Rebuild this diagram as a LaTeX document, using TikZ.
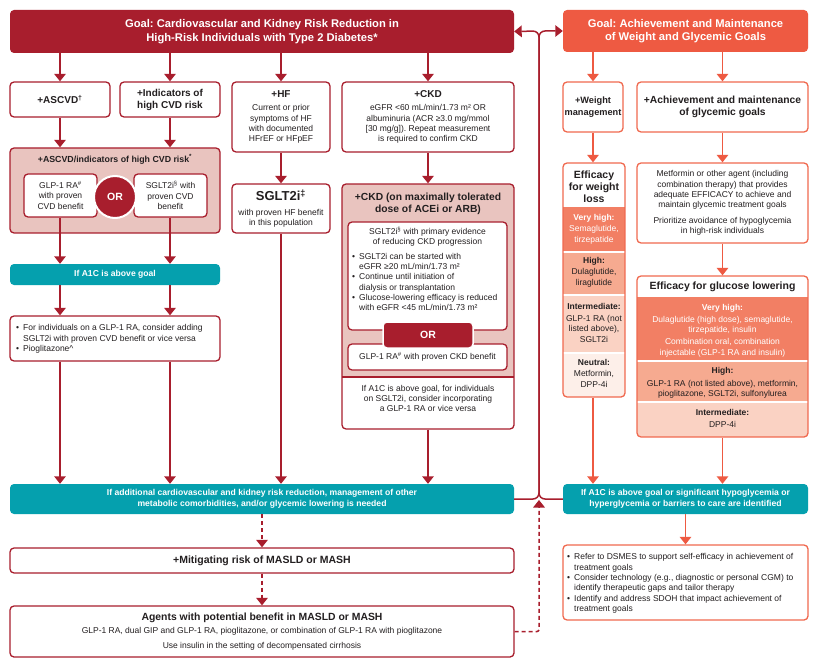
\documentclass[tikz,border=0pt]{standalone}
\usepackage{fontspec}
\setmainfont{Liberation Sans}
\usetikzlibrary{arrows.meta,calc}
\definecolor{ared}{HTML}{A81E2D}
\definecolor{apink}{HTML}{E9C4BF}
\definecolor{ateal}{HTML}{05A0AE}
\definecolor{aor}{HTML}{EE5A42}
\definecolor{aorb}{HTML}{F0694F}
\definecolor{avh}{HTML}{F27F64}
\definecolor{ahi}{HTML}{F6AA90}
\definecolor{aint}{HTML}{FAD2C3}
\definecolor{aneu}{HTML}{FDEFE9}
\definecolor{atxt}{HTML}{231F20}
\newcommand{\myfs}[2]{\fontsize{#1}{#2}\selectfont}
\newcommand{\bodyfs}{\myfs{8.5}{10.3}}
\newcommand{\blist}[1]{\begin{tabular}{@{}l@{\hspace{4pt}}l@{}}#1\end{tabular}}
\frenchspacing
\tikzset{
 base/.style={inner sep=0pt, align=center, text=atxt, font=\bodyfs},
 rbox/.style={base, draw=ared, line width=1.3pt, rounded corners=4pt, fill=white},
 obox/.style={base, draw=aorb, line width=1.3pt, rounded corners=4pt, fill=white},
 tealbox/.style={base, fill=ateal, rounded corners=4pt, text=white, font=\bfseries\myfs{8.6}{10.5}},
 goalbox/.style={base, rounded corners=4pt, text=white, font=\bfseries\myfs{11.2}{13.5}},
 txt/.style={base},
 arr/.style={draw=ared, line width=1.5pt, -{Triangle[width=11.5pt,length=7.5pt]}},
 oarr/.style={arr, draw=aor},
 darr/.style={arr, dash pattern=on 4pt off 3pt},
}
\begin{document}
\begin{tikzpicture}[x=1pt,y=-1pt]
\fill[white] (0,0) rectangle (820,666);
\useasboundingbox (0,0) rectangle (820,666);

% ---------- goals
\node[goalbox, fill=ared, minimum width=504pt, minimum height=43pt] (goalL) at (262,31.5)
 {Goal: Cardiovascular and Kidney Risk Reduction in\\High-Risk Individuals with Type 2 Diabetes*};
\node[goalbox, fill=aor, minimum width=245pt, minimum height=42pt] (goalR) at (685.5,31)
 {Goal: Achievement and Maintenance\\of Weight and Glycemic Goals};

% ---------- left column
\node[rbox, minimum width=100pt, minimum height=35pt, font=\bfseries\myfs{10}{12}] (ascvd) at (60,99.5) {+ASCVD\textsuperscript{†}};
\node[rbox, minimum width=100pt, minimum height=35pt, font=\bfseries\myfs{10}{12}] (indic) at (170,99.5) {+Indicators of\\high CVD risk};

\node[rbox, fill=apink, minimum width=210pt, minimum height=85pt] (cvdbox) at (115,190.5) {};
\node[txt, font=\bfseries\myfs{8.8}{11}] (cvdtitle) at (115,159) {+ASCVD/indicators of high CVD risk\textsuperscript{*}};
\node[rbox, minimum width=73pt, minimum height=43pt] (glpcvd) at (60.5,195.5) {GLP-1 RA\textsuperscript{\#}\\with proven\\CVD benefit};
\node[rbox, minimum width=73pt, minimum height=43pt] (sgltcvd) at (170.5,195.5) {SGLT2i\textsuperscript{§} with\\proven CVD\\benefit};
\node[base, circle, fill=ared, draw=white, line width=2pt, minimum size=42pt, text=white, font=\bfseries\myfs{10.5}{12}] (orcvd) at (115,197) {OR};

\node[tealbox, minimum width=210pt, minimum height=21pt] (a1cL) at (115,274.5) {If A1C is above goal};
\node[rbox, minimum width=210pt, minimum height=45pt] (addL) at (115,338.5) {};
\node[txt, anchor=west, align=left] (addLtxt) at (16,339)
 {\blist{•&For individuals on a GLP-1 RA, consider adding\\ &SGLT2i with proven CVD benefit or vice versa\\ •&Pioglitazone\textasciicircum}};

% ---------- HF column
\node[rbox, minimum width=98pt, minimum height=70pt] (hf) at (281,117) {{\bfseries\myfs{10}{12}+HF}\\[3pt]Current or prior\\symptoms of HF\\with documented\\HFrEF or HFpEF};
\node[rbox, minimum width=98pt, minimum height=49pt] (sglthf) at (281,208.5) {{\bfseries\myfs{13}{14}SGLT2i\textsuperscript{‡}}\\[4pt]with proven HF benefit\\in this population};

% ---------- CKD column
\node[rbox, minimum width=172pt, minimum height=70pt] (ckd) at (428,117) {{\bfseries\myfs{10}{12}+CKD}\\[3pt]eGFR <60 mL/min/1.73 m² OR\\albuminuria (ACR ≥3.0 mg/mmol\\{}[30 mg/g]). Repeat measurement\\is required to confirm CKD};

\begin{scope}
\clip[rounded corners=4pt] (342,184) rectangle (514,429);
\fill[apink] (342,184) rectangle (514,377);
\draw[ared, line width=1.3pt] (342,377) -- (514,377);
\end{scope}
\node[rbox, fill=none, minimum width=172pt, minimum height=245pt] (ckdmax) at (428,306.5) {};
\node[txt, font=\bfseries\myfs{10.3}{11.5}] (ckdmaxT) at (428,204) {+CKD (on maximally tolerated\\dose of ACEi or ARB)};
\node[rbox, minimum width=159pt, minimum height=108pt] (sgltckd) at (427.5,276) {};
\node[txt] (sgltckdT) at (427.5,237) {SGLT2i\textsuperscript{§} with primary evidence\\of reducing CKD progression};
\node[txt, anchor=west, align=left] (sgltckdB) at (352,283)
 {\blist{•&SGLT2i can be started with\\ &eGFR ≥20 mL/min/1.73 m²\\ •&Continue until initiation of\\ &dialysis or transplantation\\ •&Glucose-lowering efficacy is reduced\\ &with eGFR <45 mL/min/1.73 m²}};
\node[rbox, minimum width=159pt, minimum height=26pt] (glpckd) at (427.5,357) {GLP-1 RA\textsuperscript{\#} with proven CKD benefit};
\node[base, fill=ared, draw=white, line width=1.5pt, rounded corners=4pt, minimum width=90pt, minimum height=26pt, text=white, font=\bfseries\myfs{10.5}{12}] (orckd) at (428,335) {OR};
\node[txt] (ckdA1c) at (428,398.5) {If A1C is above goal, for individuals\\on SGLT2i, consider incorporating\\a GLP-1 RA or vice versa};

% ---------- bottom left
\node[tealbox, minimum width=504pt, minimum height=30pt] (addtl) at (262,499) {If additional cardiovascular and kidney risk reduction, management of other\\metabolic comorbidities, and/or glycemic lowering is needed};
\node[rbox, minimum width=504pt, minimum height=25pt, font=\bfseries\myfs{10.5}{12}] (masld) at (262,560.5) {+Mitigating risk of MASLD or MASH};
\node[rbox, minimum width=504pt, minimum height=51pt] (agents) at (262,631.5) {{\bfseries\myfs{10.4}{12}Agents with potential benefit in MASLD or MASH}\\[3pt]GLP-1 RA, dual GIP and GLP-1 RA, pioglitazone, or combination of GLP-1 RA with pioglitazone\\[5pt]Use insulin in the setting of decompensated cirrhosis};

% ---------- right side
\node[obox, minimum width=60pt, minimum height=50pt, font=\bfseries\myfs{9.2}{12}] (wm) at (593,107) {+Weight\\management};
\node[obox, minimum width=171pt, minimum height=50pt, font=\bfseries\myfs{10.3}{12.5}] (ach) at (722.5,107) {+Achievement and maintenance\\of glycemic goals};

\begin{scope}
\clip[rounded corners=4pt] (563,163) rectangle (625,397);
\fill[avh] (563,207) rectangle (625,252);
\fill[ahi] (563,252) rectangle (625,295);
\fill[aint] (563,295) rectangle (625,353);
\fill[aneu] (563,353) rectangle (625,397);
\draw[white, line width=1.2pt] (563,252) -- (625,252) (563,295) -- (625,295) (563,353) -- (625,353);
\end{scope}
\node[obox, fill=none, minimum width=62pt, minimum height=234pt] (effW) at (594,280) {};
\node[txt, font=\bfseries\myfs{10.5}{12}] (effWT) at (594,187) {Efficacy\\for weight\\loss};
\node[txt, text=white] (effW1) at (594,229) {{\bfseries Very high:}\\[1.5pt]Semaglutide,\\tirzepatide};
\node[txt] (effW2) at (594,272) {{\bfseries High:}\\[1.5pt]Dulaglutide,\\liraglutide};
\node[txt] (effW3) at (594,323) {{\bfseries Intermediate:}\\[1.5pt]GLP-1 RA (not\\listed above),\\SGLT2i};
\node[txt] (effW4) at (594,373) {{\bfseries Neutral:}\\[1.5pt]Metformin,\\DPP-4i};

\node[obox, minimum width=171pt, minimum height=80pt] (metf) at (722.5,203) {Metformin or other agent (including\\combination therapy) that provides\\adequate EFFICACY to achieve and\\maintain glycemic treatment goals\\[5pt]Prioritize avoidance of hypoglycemia\\in high-risk individuals};

\begin{scope}
\clip[rounded corners=4pt] (637,276) rectangle (808,437);
\fill[avh] (637,297) rectangle (808,361);
\fill[ahi] (637,361) rectangle (808,402);
\fill[aint] (637,402) rectangle (808,437);
\draw[white, line width=1.2pt] (637,361) -- (808,361) (637,402) -- (808,402);
\end{scope}
\node[obox, fill=none, minimum width=171pt, minimum height=161pt] (effG) at (722.5,356.5) {};
\node[txt, font=\bfseries\myfs{10.5}{12}] (effGT) at (722.5,287) {Efficacy for glucose lowering};
\node[txt, text=white] (effG1) at (722.5,330.5) {{\bfseries Very high:}\\[2pt]Dulaglutide (high dose), semaglutide,\\tirzepatide, insulin\\[2pt]Combination oral, combination\\injectable (GLP-1 RA and insulin)};
\node[txt] (effG2) at (722.5,383) {{\bfseries High:}\\[2pt]GLP-1 RA (not listed above), metformin,\\pioglitazone, SGLT2i, sulfonylurea};
\node[txt] (effG3) at (722.5,418.5) {{\bfseries Intermediate:}\\[2pt]DPP-4i};

\node[tealbox, minimum width=245pt, minimum height=30pt] (a1cR) at (685.5,499) {If A1C is above goal or significant hypoglycemia or\\hyperglycemia or barriers to care are identified};
\node[obox, minimum width=245pt, minimum height=75pt] (careR) at (685.5,582.5) {};
\node[txt, anchor=west, align=left] (careRtxt) at (567,583.5)
 {\blist{•&Refer to DSMES to support self-efficacy in achievement of\\ &treatment goals\\ •&Consider technology (e.g., diagnostic or personal CGM) to\\ &identify therapeutic gaps and tailor therapy\\ •&Identify and address SDOH that impact achievement of\\ &treatment goals}};

% ---------- connectors (left)
\draw[arr] (goalL.south -| ascvd.north) -- (ascvd.north);
\draw[arr] (goalL.south -| indic.north) -- (indic.north);
\draw[arr] (goalL.south -| hf.north) -- (hf.north);
\draw[arr] (goalL.south -| ckd.north) -- (ckd.north);
\draw[arr] (ascvd.south) -- (ascvd.south |- cvdbox.north);
\draw[arr] (indic.south) -- (indic.south |- cvdbox.north);
\draw[arr] (glpcvd.south -| ascvd.south) -- (a1cL.north -| ascvd.south);
\draw[arr] (sgltcvd.south -| indic.south) -- (a1cL.north -| indic.south);
\draw[arr] (a1cL.south -| ascvd.south) -- (addL.north -| ascvd.south);
\draw[arr] (a1cL.south -| indic.south) -- (addL.north -| indic.south);
\draw[arr] (addL.south -| ascvd.south) -- (addtl.north -| ascvd.south);
\draw[arr] (addL.south -| indic.south) -- (addtl.north -| indic.south);
\draw[arr] (hf.south) -- (sglthf.north);
\draw[arr] (sglthf.south) -- (sglthf.south |- addtl.north);
\draw[arr] (ckd.south) -- (ckdmax.north);
\draw[arr] (ckdmax.south) -- (ckdmax.south |- addtl.north);
\draw[darr] (addtl.south) -- (masld.north);
\draw[darr] (masld.south) -- (agents.north);

% ---------- connectors (right)
\draw[oarr] (goalR.south -| wm.north) -- (wm.north);
\draw[oarr] (goalR.south -| ach.north) -- (ach.north);
\draw[oarr] (wm.south) -- (wm.south |- effW.north);
\draw[oarr] (ach.south -| metf.north) -- (metf.north);
\draw[oarr] (metf.south) -- (effG.north);
\draw[oarr] (effW.south -| wm.south) -- (a1cR.north -| wm.south);
\draw[oarr] (effG.south) -- (effG.south |- a1cR.north);
\draw[oarr] (a1cR.south) -- (careR.north);

% ---------- loop back to goals
\coordinate (jtop) at (539,31);
\coordinate (jbot) at (539,499);
\draw[arr, rounded corners=6pt] (addtl.east) -- (jbot) -- (jtop) -- (goalL.east);
\draw[arr, rounded corners=6pt] (a1cR.west) -- (jbot) -- (jtop) -- (goalR.west);
\draw[darr, rounded corners=2pt] (agents.east) -- (agents.east -| jbot) -- ([yshift=-1pt]jbot);
\end{tikzpicture}
\end{document}
